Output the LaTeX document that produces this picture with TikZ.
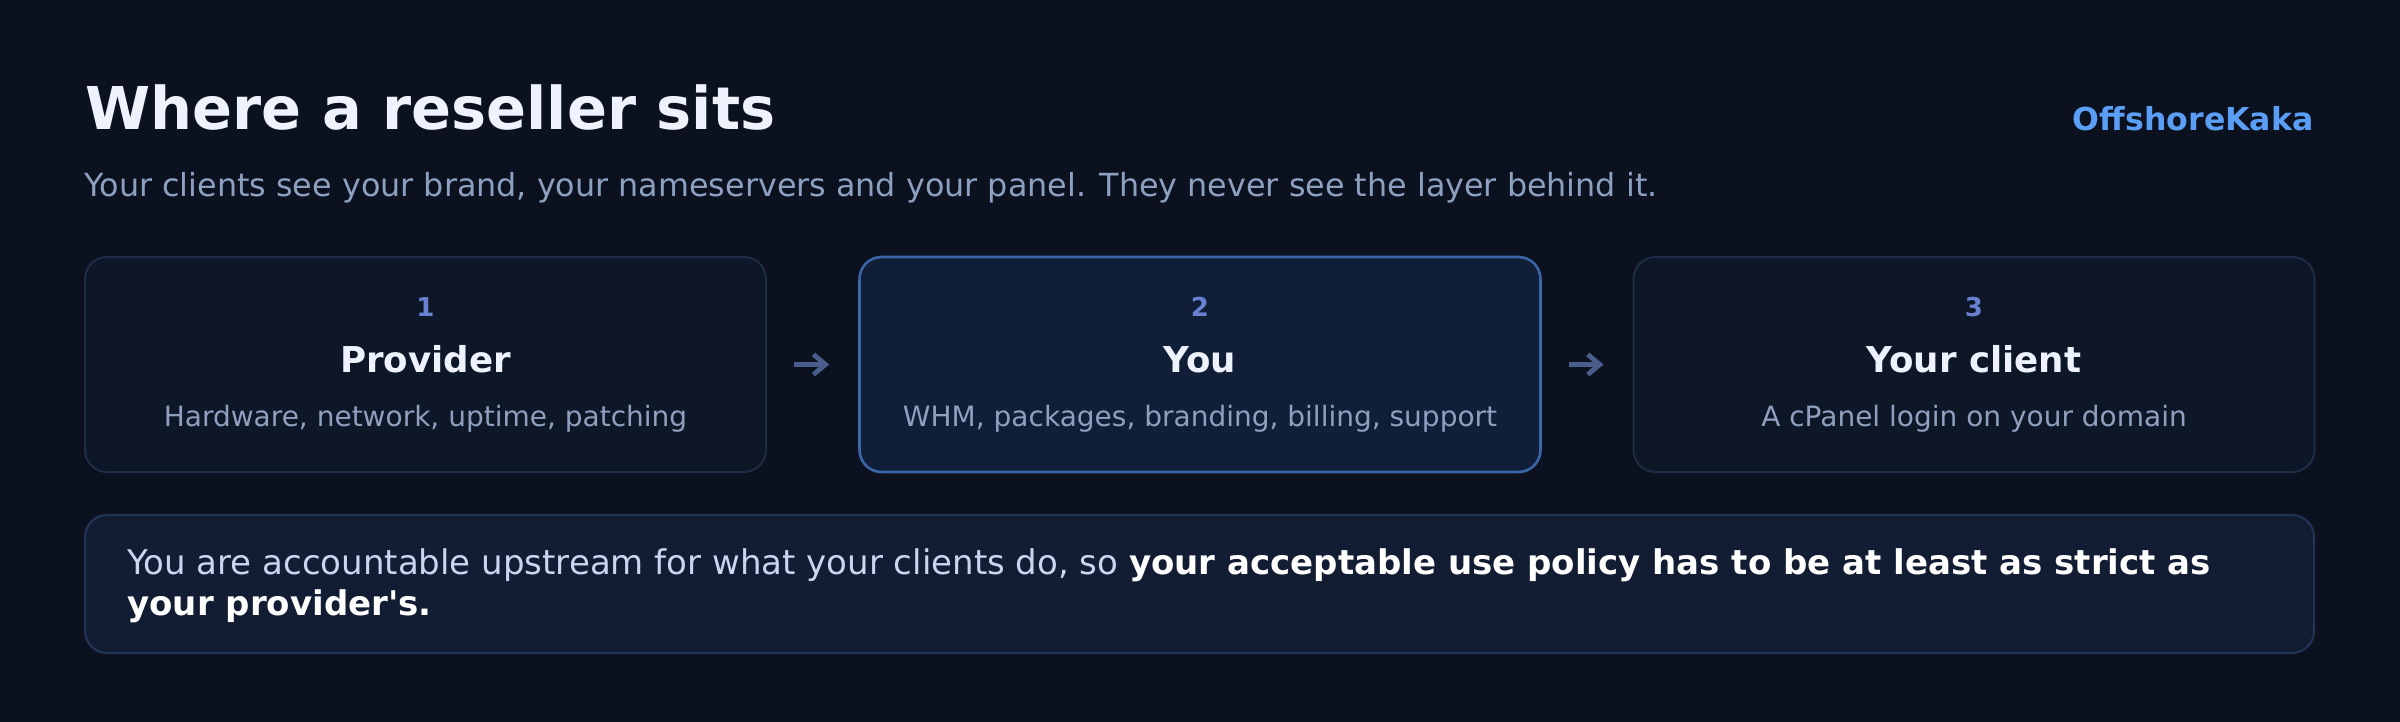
\documentclass[tikz,border=0pt]{standalone}
\usepackage{fontspec}
\setmainfont{DejaVu Sans}
\newfontfamily\plainfam{DejaVu Sans}
\usetikzlibrary{arrows.meta}
\definecolor{bg}{HTML}{0B111E}
\definecolor{cardfill}{HTML}{0E1727}
\definecolor{cardline}{HTML}{1F2C46}
\definecolor{hifill}{HTML}{111E38}
\definecolor{hiline}{HTML}{3A66A8}
\definecolor{notefill}{HTML}{121C32}
\definecolor{noteline}{HTML}{223556}
\definecolor{numc}{HTML}{6A80D2}
\definecolor{titlec}{HTML}{EEF2FC}
\definecolor{descc}{HTML}{8FA0BF}
\definecolor{subc}{HTML}{8EA0C0}
\definecolor{notec}{HTML}{C8D6F0}
\definecolor{brandc}{HTML}{5B9EF5}
\definecolor{arrowc}{HTML}{4A5E8C}
\tikzset{
  card/.style={draw=cardline, fill=cardfill, line width=1pt, rounded corners=11pt,
    minimum width=340.5pt, minimum height=107.5pt, inner sep=0pt},
  hicard/.style={card, draw=hiline, fill=hifill, line width=1.3pt},
  notebox/.style={draw=noteline, fill=notefill, line width=1pt, rounded corners=11pt,
    minimum width=1114.5pt, minimum height=69pt, inner sep=0pt},
  numtxt/.style={anchor=base, inner sep=0pt, text=numc, font=\bfseries\fontsize{13}{15}\selectfont},
  ttltxt/.style={anchor=base, inner sep=0pt, text=titlec, font=\bfseries\fontsize{17.8}{21}\selectfont},
  dsctxt/.style={anchor=base, inner sep=0pt, text=descc, font=\fontsize{14}{17}\selectfont},
  flow/.style={draw=arrowc, line width=2.4pt, -{Straight Barb[length=6pt,width=10pt,line width=2.4pt]},
    shorten <=13.5pt, shorten >=14.5pt},
}
\begin{document}
\begin{tikzpicture}[x=0.5pt,y=-0.5pt]
\fill[bg] (0,0) rectangle (2400,722);
\useasboundingbox (0,0) rectangle (2400,722);

\node[anchor=base west, inner sep=0pt, text=titlec, font=\bfseries\fontsize{29.5}{34}\selectfont] (title) at (85,130) {Where a reseller sits};
\node[anchor=base west, inner sep=0pt, text=subc, font=\fontsize{15.9}{19}\selectfont] (sub) at (84,197) {Your clients see your brand, your nameservers and your panel. They never see the layer behind it.};
\node[anchor=base east, inner sep=0pt, text=brandc, font=\bfseries\fontsize{15.8}{18}\selectfont] (brand) at (2314,131) {OffshoreKaka};

\node[card] (b1) at (425.5,364.5) {};
\node[hicard] (b2) at (1200,364.5) {};
\node[card] (b3) at (1974,364.5) {};

\node[numtxt] (n1) at (425.5,316) {1};
\node[ttltxt] (t1) at (425.5,372) {Provider};
\node[dsctxt] (d1) at (425.5,426) {Hardware, network, uptime, patching};

\node[numtxt] (n2) at (1200,316) {2};
\node[ttltxt] (t2) at (1200,372) {You};
\node[dsctxt] (d2) at (1200,426) {WHM, packages, branding, billing, support};

\node[numtxt] (n3) at (1974,316) {3};
\node[ttltxt] (t3) at (1974,372) {Your client};
\node[dsctxt] (d3) at (1974,426) {A cPanel login on your domain};

\draw[flow] (b1.east) -- (b2.west);
\draw[flow] (b2.east) -- (b3.west);

\node[notebox] (note) at (1199.5,584) {};
\node[anchor=base west, inner sep=0pt, align=left, text=notec, font=\plainfam\fontsize{17}{20.5}\selectfont] (notetxt) at (127,615)
  {You are accountable upstream for what your clients do, so \textcolor{white}{\bfseries your acceptable use policy has to be at least as strict as}\\\textcolor{white}{\bfseries your provider's.}};
\end{tikzpicture}
\end{document}
